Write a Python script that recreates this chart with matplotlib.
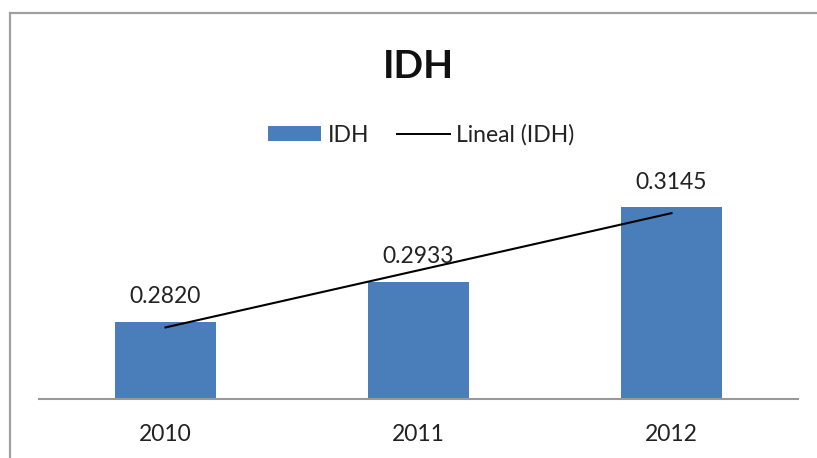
import numpy as np
import matplotlib
matplotlib.use("Agg")
import matplotlib.pyplot as plt
from matplotlib.patches import Rectangle
from matplotlib.lines import Line2D
from matplotlib.patches import Patch

categories = ["2010", "2011", "2012"]
values = [0.2820, 0.2933, 0.3145]
labels = ["0.2820", "0.2933", "0.3145"]
title = "IDH"
series_name = "IDH"
trend_name = "Lineal (IDH)"

plt.rcParams['font.family'] = ['Lato', 'DejaVu Sans']

W, H = 817, 458
fig = plt.figure(figsize=(W / 100, H / 100), dpi=100)
fig.patch.set_facecolor("white")

# chart border (extends past right/bottom edges)
fig.patches.append(Rectangle((9.5 / W, -0.1), 1.0, 1.1 - 13 / H, transform=fig.transFigure,
                             fill=False, edgecolor="#A0A0A0", linewidth=1.6, zorder=0))

ax = fig.add_axes([39 / W, (H - 399) / H, 759 / W, (399 - 188) / H])
x = np.arange(len(categories))
bar_color = "#4A7EBB"
ax.bar(x, values, width=0.4, color=bar_color, bottom=0, zorder=2)
ax.set_ylim(0.26, 0.32)
ax.set_xlim(-0.5, 2.5)

# linear trend line
coef = np.polyfit(x + 1, values, 1)
ax.plot(x, np.polyval(coef, x + 1), color="black", linewidth=1.5, zorder=3)

for xi, v, lab in zip(x, values, labels):
    ax.annotate(lab, (xi, v), xytext=(0, 10.5), textcoords="offset points",
                ha="center", va="bottom", fontsize=16.5, color="#222222")

for s in ["top", "right", "left"]:
    ax.spines[s].set_visible(False)
ax.spines["bottom"].set_color("#999999")
ax.spines["bottom"].set_linewidth(1.5)
ax.set_yticks([])
ax.set_xticks(x)
ax.set_xticklabels(categories, fontsize=16.5, color="#222222")
ax.tick_params(axis="x", length=0, pad=18)
ax.patch.set_alpha(0)

fig.text(418 / W, 1 - 78 / H, title, ha="center", va="baseline",
         fontsize=28, fontweight="bold", color="#111111")

handles = [Patch(facecolor=bar_color, edgecolor="none"),
           Line2D([0], [0], color="black", linewidth=1.4)]
fig.legend(handles, [series_name, trend_name], loc="center",
           bbox_to_anchor=(421.5 / W, 1 - 135 / H), ncol=2, frameon=False,
           fontsize=16.5, handlelength=2.3, handleheight=0.65, handletextpad=0.3,
           columnspacing=1.2, labelcolor="#222222")

fig.savefig("out.png", dpi=100)
